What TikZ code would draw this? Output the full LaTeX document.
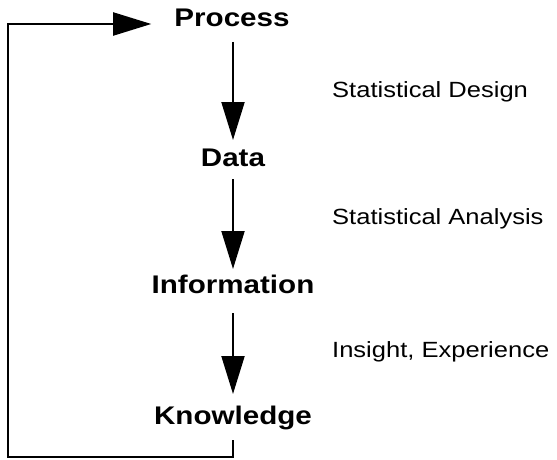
\documentclass[tikz,border=0pt]{standalone}
\usepackage{fontspec}
\setmainfont{Liberation Sans}[FakeStretch=1.16]
\usetikzlibrary{arrows.meta}
\begin{document}
\begin{tikzpicture}[x=1pt,y=-1pt,
  stage/.style={font=\fontsize{25.5}{30}\selectfont\bfseries, inner sep=0pt, anchor=base},
  side/.style={font=\fontsize{22}{26}\selectfont, inner sep=0pt, anchor=base west},
  arr/.style={line width=2pt, -{Triangle[length=38pt,width=23pt]}},
  ln/.style={line width=2pt}]
\useasboundingbox (0,0) rectangle (557,460);
\node[stage] (process) at (232,27) {Process};
\node[stage] (data) at (233,166) {Data};
\node[stage] (info) at (233,293) {Information};
\node[stage] (know) at (233,424) {Knowledge};
\node[side] (l1) at (332,97) {Statistical Design};
\node[side] (l2) at (332,224) {Statistical Analysis};
\node[side] (l3) at (332,357) {Insight, Experience};
\coordinate (k1) at (233,457);
\coordinate (k2) at (8,457);
\coordinate (k3) at (8,24);
\draw[arr] ([xshift=1pt,yshift=-15pt]process.base) -- ([yshift=26pt]data.base);
\draw[arr] ([yshift=-13pt]data.base) -- ([yshift=24pt]info.base);
\draw[arr] ([yshift=-20pt]info.base) -- ([yshift=30pt]know.base);
\draw[arr] ([yshift=-16pt]know.base) -- (k1) -- (k2) -- (k3) -- ([xshift=-23pt,yshift=3pt]process.base west);
\end{tikzpicture}
\end{document}
